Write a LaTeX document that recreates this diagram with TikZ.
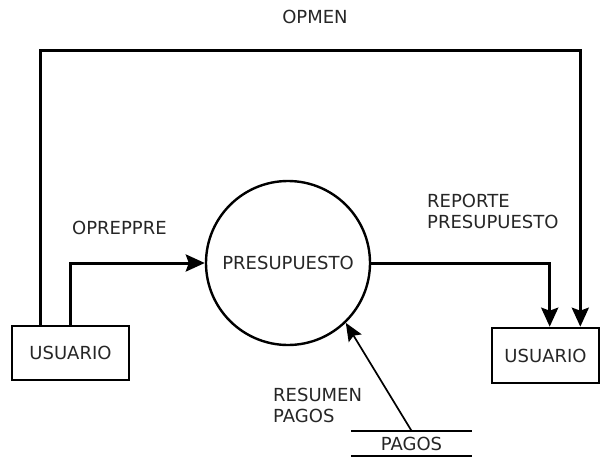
\documentclass[tikz,border=0pt]{standalone}
\usepackage{fontspec}
\setmainfont{DejaVu Sans}
\usepackage{tikz}
\usetikzlibrary{arrows.meta,positioning,calc}
\newcommand{\dfdfont}{\fontsize{18}{21}\selectfont}
\tikzset{
  entbox/.style={draw=black,line width=2.6pt,minimum width=117pt,minimum height=54pt,
    inner sep=0pt,font=\dfdfont,text=black!85},
  procnode/.style={draw=black,circle,line width=2.4pt,minimum size=164pt,
    inner sep=0pt,font=\dfdfont,text=black!85},
  storenode/.style={minimum width=121pt,minimum height=25pt,inner sep=0pt,
    font=\dfdfont,text=black!85},
  flowlbl/.style={inner sep=0pt,font=\dfdfont,text=black!85},
  flow/.style={-{Stealth[length=19pt,width=17pt,inset=3pt]},line width=3pt},
  thinflow/.style={-{Stealth[length=18pt,width=15pt,inset=3pt]},line width=1.7pt},
  storeline/.style={line width=2.2pt}
}

\begin{document}
\begin{tikzpicture}[x=1pt,y=-1pt]
\useasboundingbox (0,0) rectangle (601,457);

\node[entbox] (usrL) at (70.5,353) {USUARIO};
\node[entbox,minimum width=107pt,minimum height=55pt] (usrR) at (545.5,355.5) {USUARIO};
\node[procnode] (pres) at (288,263) {PRESUPUESTO};
\node[storenode] (pgs) at (411.5,443.5) {PAGOS};
\draw[storeline] (pgs.north west) -- (pgs.north east) (pgs.south west) -- (pgs.south east);

\node[flowlbl] (lOpmen) at (315,17) {OPMEN};
\node[flowlbl,anchor=west] (lOpreppre) at (72,228) {OPREPPRE};
\node[flowlbl,anchor=west,align=left] (lReporte) at (427,211.5) {REPORTE\\PRESUPUESTO};
\node[flowlbl,anchor=west,align=left] (lResumen) at (273,405.5) {RESUMEN\\PAGOS};

% flujos
\draw[flow] ($(usrL.north west)+(30,0)$) -- ++(0,-274) -| ($(usrR.north east)+(-20,0)$);
\draw[flow] (usrL.north) |- (pres.west);
\draw[flow] (pres.east) -| ($(usrR.north west)+(59,0)$);
\draw[thinflow] (pgs.north) -- (pres.-46);
\end{tikzpicture}
\end{document}
